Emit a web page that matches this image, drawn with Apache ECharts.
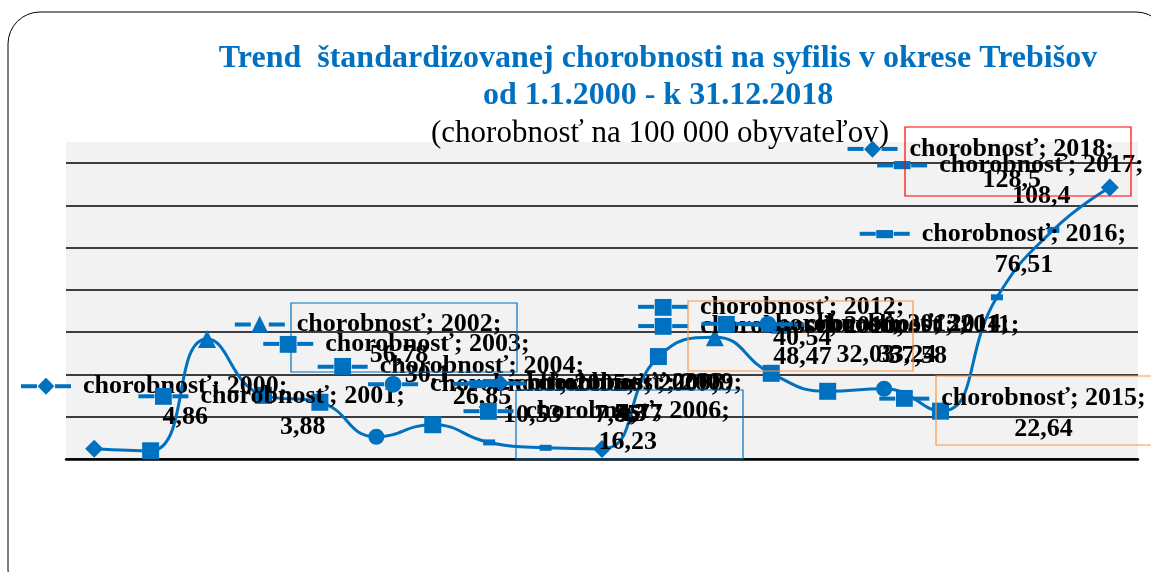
<!DOCTYPE html>
<html>
<head>
<meta charset="utf-8">
<script src="https://cdn.jsdelivr.net/npm/echarts@6/dist/echarts.min.js"></script>
<style>
  html, body { margin: 0; padding: 0; background: #fff; }
  #chart { width: 1151px; height: 572px; }
</style>
</head>
<body>
<div id="chart"></div>
<script>
// roky a chorobnost na 100 000 obyvatelov
var years = ["2000", "2001", "2002", "2003", "2004", "2005", "2006", "2007", "2008", "2009",
  "2010", "2011", "2012", "2013", "2014", "2015", "2016", "2017", "2018"]
var rates = [4.86, 3.88, 56.78, 30.1, 26.85, 10.53, 16.23, 7.85, 5.3, 4.77,
  48.47, 57.58, 40.54, 32.03, 33.24, 22.64, 76.51, 108.4, 128.5]
var yTicks = [0, 20, 40, 60, 80, 100, 120, 140]

// styl bodov (znacka) a posun popisov
var markers = ["diamond", "rect", "triangle", "rect", "rect", "circle", "rect", "dash", "dash", "diamond",
  "rect", "triangle", "rect", "rect", "circle", "rect", "dash", "dash", "diamond"]
var labelShift = [[60, -47], [121, -39], [161, 1], [133, -36], [131, -20], [125, -37], [164, 2],
  [97, -43], [54, -49], [7, -50], [113, -15], [172, 3], [0, -51], [7, -52], [-8, -49],
  [72, 3], [-4, -48], [-43, -49], [-129, -23]]

var blue = "#0070C0"
var glyph = { diamond: "◆", rect: "■", triangle: "▲", circle: "●", dash: "▬" }
var symbolOf = {
  diamond: { symbol: "diamond", symbolSize: 18 },
  rect: { symbol: "rect", symbolSize: 17 },
  triangle: { symbol: "triangle", symbolSize: 18 },
  circle: { symbol: "circle", symbolSize: 16 },
  dash: { symbol: "rect", symbolSize: [12, 6] }
}

function fmt(v) {
  return String(v).replace(".", ",")
}

var seriesData = rates.map(function (v, i) {
  var m = markers[i]
  return {
    value: v,
    symbol: symbolOf[m].symbol,
    symbolSize: symbolOf[m].symbolSize
  }
})

var chartDom = echarts.init(document.getElementById("chart"))

var option = {
  animation: false,
  backgroundColor: "#fff",
  title: [
    {
      text: "Trend  štandardizovanej chorobnosti na syfilis v okrese Trebišov\nod 1.1.2000 - k 31.12.2018",
      left: 653,
      top: 35,
      textAlign: "center",
      textStyle: {
        fontFamily: "Liberation Serif",
        fontWeight: "bold",
        fontSize: 32,
        lineHeight: 37,
        color: blue
      }
    },
    {
      text: "(chorobnosť na 100 000 obyvateľov)",
      left: 655,
      top: 113,
      textAlign: "center",
      textStyle: {
        fontFamily: "Liberation Serif",
        fontWeight: "normal",
        fontSize: 31,
        color: "#000"
      }
    }
  ],
  grid: {
    left: 66,
    right: 13,
    top: 142,
    bottom: 113,
    show: true,
    backgroundColor: "#F2F2F2",
    borderWidth: 0
  },
  xAxis: {
    type: "category",
    data: years,
    boundaryGap: true,
    axisLine: { show: true, lineStyle: { color: "#000", width: 2.5 } },
    axisTick: { show: false },
    axisLabel: { show: false }
  },
  yAxis: {
    type: "value",
    min: yTicks[0],
    max: 150,
    interval: yTicks[1] - yTicks[0],
    axisLine: { show: false },
    axisTick: { show: false },
    axisLabel: { show: false },
    splitLine: {
      show: true,
      showMaxLine: false,
      lineStyle: { color: "#000", width: 1.6 }
    }
  },
  graphic: [
    {
      type: "rect",
      z: -10,
      shape: { x: 8, y: 12, width: 1160, height: 590, r: 32 },
      style: { fill: "none", stroke: "#000", lineWidth: 1 }
    },
    { type: "rect", z: 100, shape: { x: 291, y: 303, width: 226, height: 69 }, style: { fill: "none", stroke: blue, lineWidth: 1.2 } },
    { type: "rect", z: 100, shape: { x: 516, y: 390, width: 227, height: 69 }, style: { fill: "none", stroke: blue, lineWidth: 1.2 } },
    { type: "rect", z: 100, shape: { x: 688, y: 301, width: 225, height: 70 }, style: { fill: "none", stroke: "#F79646", lineWidth: 1.2 } },
    { type: "rect", z: 100, shape: { x: 936, y: 376, width: 230, height: 69 }, style: { fill: "none", stroke: "#F79646", lineWidth: 1.2 } },
    { type: "rect", z: 100, shape: { x: 905, y: 127, width: 226, height: 69 }, style: { fill: "none", stroke: "#FF0000", lineWidth: 1.2 } }
  ],
  series: [
    {
      name: "chorobnosť",
      type: "line",
      smooth: 0.5,
      data: seriesData,
      lineStyle: { color: blue, width: 3 },
      itemStyle: { color: blue },
      label: {
        show: true,
        position: "inside",
        align: "center",
        verticalAlign: "middle",
        formatter: function (p) {
          var g = glyph[markers[p.dataIndex]]
          return "{ln|}{mk|" + g + "}{ln|}{t|chorobnosť; " + p.name + ";}\n{sp|}{v|" + fmt(rates[p.dataIndex]) + "}"
        },
        rich: {
          ln: { width: 16, height: 4, backgroundColor: blue },
          mk: { fontFamily: "DejaVu Sans", fontSize: 22, color: blue, width: 18, align: "center", lineHeight: 31 },
          t: { fontFamily: "Liberation Serif", fontWeight: "bold", fontSize: 26, color: "#000", padding: [0, 0, 0, 12], lineHeight: 31 },
          sp: { width: 62, lineHeight: 31 },
          v: { fontFamily: "Liberation Serif", fontWeight: "bold", fontSize: 26, color: "#000", lineHeight: 31 }
        }
      },
      labelLayout: function (p) {
        var s = labelShift[p.dataIndex]
        return { dx: s[0], dy: s[1], hideOverlap: false }
      }
    }
  ]
}

chartDom.setOption(option, true)
window.addEventListener("resize", function () {
  chartDom.resize()
})
</script>
</body>
</html>
